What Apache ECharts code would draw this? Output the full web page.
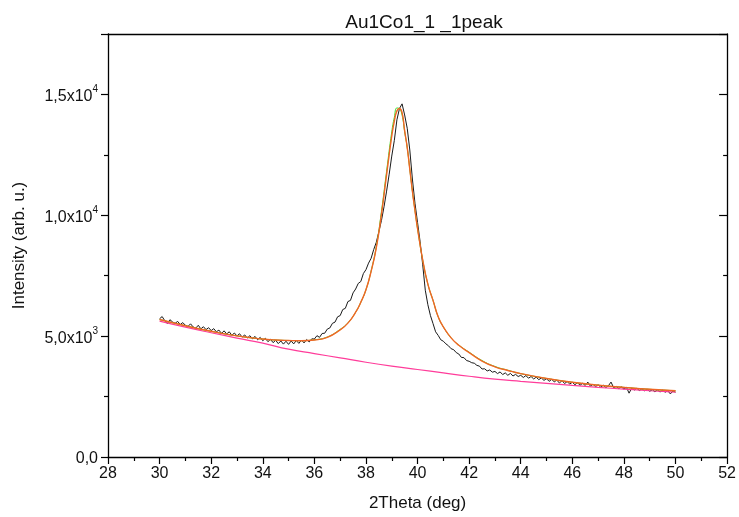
<!DOCTYPE html>
<html>
<head>
<meta charset="utf-8">
<script src="https://cdn.jsdelivr.net/npm/echarts@6/dist/echarts.min.js"></script>
<style>
html,body{margin:0;padding:0;background:#fff;}
#chart{width:739px;height:517px;}
</style>
</head>
<body>
<div id="chart"></div>
<script>
// ---- data ----
const titleText = 'Au1Co1_1 _1peak';
const xAxisName = '2Theta (deg)';
const yAxisName = 'Intensity (arb. u.)';
const xTicks = [28, 52, 2];          // min, max, interval
const yTicks = [0, 17500, 5000];     // min, max, interval
const yTickLabels = {0: ['0,0', ''], 5000: ['5,0x10', '3'], 10000: ['1,0x10', '4'], 15000: ['1,5x10', '4']};

// measured data, sampled every 0.1 deg starting at 30
const dataStart = 30, dataStep = 0.1;
const measured = [
5720,5810,5640,5520,5680,5590,5530,5610,5480,5560,5450,
5400,5510,5380,5330,5450,5300,5390,5270,5350,5230,
5310,5180,5250,5110,5220,5090,5180,5040,5130,5010,
5100,4960,5050,4920,5020,4890,4990,4850,4950,4810,
4910,4770,4870,4730,4830,4690,4800,4670,4790,4660,
4800,4680,4820,4700,4840,4720,4860,4760,4890,4880,
5020,4950,5110,5120,5290,5340,5530,5580,5800,5850,
6100,6150,6430,6480,6790,6950,7180,7260,7590,7750,
8020,8220,8580,8880,9320,9780,10350,11000,11700,12450,
13100,13950,14420,14610,14150,13600,12700,11500,10500,9700,
8900,7950,6900,6300,5850,5520,5180,5030,4850,4790,
4680,4600,4480,4440,4320,4260,4120,4110,3990,3960,
3900,3880,3790,3760,3640,3650,3560,3600,3510,3540,
3450,3520,3410,3480,3380,3460,3350,3420,3330,3380,
3290,3370,3260,3330,3230,3300,3200,3270,3170,3240,
3130,3210,3110,3180,3060,3160,3040,3120,3020,3090,
2990,3070,2970,3050,2960,3100,2930,3010,2910,2990,
2890,2970,2870,2950,3100,2870,2920,2830,2900,2810,
2880,2640,2850,2770,2840,2750,2820,2740,2800,2720,
2780,2700,2770,2690,2760,2680,2740,2610,2730,2680
];

// fitted curve (peak + background)
const fitX = [30,31,32,33,34,34.5,35,35.5,36,36.5,37,37.3,37.6,37.8,38,38.2,38.4,38.6,38.8,39,39.1,39.2,39.3,39.4,39.5,39.6,39.7,39.8,39.9,40,40.2,40.4,40.6,40.8,41,41.3,41.6,42,42.5,43,43.5,44,45,46,47,48,49,50];
const fitY = [5690,5430,5200,5010,4880,4840,4820,4810,4840,4950,5260,5540,5990,6400,6920,7680,8650,10040,11680,13280,13900,14320,14420,14250,13500,12800,11900,11000,10200,9450,8150,7150,6480,5800,5380,4930,4620,4320,3970,3730,3580,3450,3250,3090,2970,2880,2800,2740];
// cumulative fit (green), nearly the same curve
const cumY = [5690,5430,5200,5010,4880,4840,4820,4815,4850,4965,5280,5550,5990,6400,6920,7700,8700,10150,11820,13450,14050,14440,14400,14150,13450,12800,11900,11000,10200,9450,8150,7150,6480,5800,5380,4930,4630,4335,3990,3745,3590,3450,3250,3090,2970,2880,2800,2740];

// background line
const bgX = [30,31,32,33,34,35,36,37,38,39,40,41,42,43,44,45,46,47,48,49,50];
const bgY = [5620,5370,5140,4920,4710,4460,4280,4100,3920,3760,3620,3480,3340,3220,3130,3050,2960,2880,2810,2740,2680];

// ---- build series data ----
const measuredData = measured.map((v, i) => [+(dataStart + i * dataStep).toFixed(2), v]);
const fitData = fitX.map((x, i) => [x, fitY[i]]);
const cumData = fitX.map((x, i) => [x, cumY[i]]);
const bgData = bgX.map((x, i) => [x, bgY[i]]);

const FONT = "'Liberation Sans', Arial, sans-serif";
const chart = echarts.init(document.getElementById('chart'), null, {renderer: 'canvas'});

chart.setOption({
  backgroundColor: '#fff',
  animation: false,
  title: {
    text: titleText,
    left: 419, top: 8, textAlign: 'center',
    textStyle: {fontFamily: FONT, fontSize: 19, fontWeight: 'normal', color: '#111'}
  },
  grid: {left: 108, right: 7, top: 34, bottom: 59, containLabel: false},
  xAxis: [{
    type: 'value', min: xTicks[0], max: xTicks[1], interval: xTicks[2],
    position: 'bottom',
    name: xAxisName, nameLocation: 'middle', nameGap: 38,
    nameTextStyle: {fontFamily: FONT, fontSize: 17, color: '#111'},
    axisLine: {show: true, onZero: false, lineStyle: {color: '#000', width: 1.3}},
    axisTick: {show: true, inside: false, length: 7, lineStyle: {color: '#000', width: 1.2}},
    minorTick: {show: true, splitNumber: 2, length: 4, lineStyle: {color: '#000', width: 1.2}},
    axisLabel: {fontFamily: FONT, fontSize: 16, color: '#111', margin: 9},
    splitLine: {show: false}
  }, {
    type: 'value', min: xTicks[0], max: xTicks[1], interval: xTicks[2],
    position: 'top',
    axisLine: {show: true, onZero: false, lineStyle: {color: '#000', width: 1.3}},
    axisTick: {show: false}, axisLabel: {show: false}, splitLine: {show: false}
  }],
  yAxis: [{
    type: 'value', min: yTicks[0], max: yTicks[1], interval: yTicks[2],
    position: 'left',
    name: yAxisName, nameLocation: 'middle', nameGap: 80, nameRotate: 90,
    nameTextStyle: {fontFamily: FONT, fontSize: 17, color: '#111'},
    axisLine: {show: true, onZero: false, lineStyle: {color: '#000', width: 1.3}},
    axisTick: {show: true, inside: false, length: 7, lineStyle: {color: '#000', width: 1.2}},
    minorTick: {show: true, splitNumber: 2, length: 4, lineStyle: {color: '#000', width: 1.2}},
    axisLabel: {
      margin: 10,
      formatter: function (v) {
        const t = yTickLabels[v];
        if (!t) return '';
        return t[1] ? '{a|' + t[0] + '}{s|' + t[1] + '}' : '{a|' + t[0] + '}';
      },
      rich: {
        a: {fontFamily: FONT, fontSize: 16, color: '#111', lineHeight: 20, verticalAlign: 'bottom'},
        s: {fontFamily: FONT, fontSize: 10, color: '#111', lineHeight: 20, verticalAlign: 'top'}
      }
    },
    splitLine: {show: false}
  }, {
    type: 'value', min: yTicks[0], max: yTicks[1], interval: yTicks[2],
    position: 'right',
    axisLine: {show: true, onZero: false, lineStyle: {color: '#000', width: 1.3}},
    axisTick: {show: true, inside: true, length: 8, lineStyle: {color: '#000', width: 1.2}},
    minorTick: {show: true, splitNumber: 2, length: 4, lineStyle: {color: '#000', width: 1.2}},
    axisLabel: {show: false}, splitLine: {show: false}
  }],
  series: [
    {type: 'line', name: 'data', data: measuredData, showSymbol: false, smooth: false,
     lineStyle: {color: '#1a1a1a', width: 1}, z: 2},
    {type: 'line', name: 'background', data: bgData, showSymbol: false, smooth: true,
     lineStyle: {color: '#ff3c9a', width: 1.2}, z: 3},
    {type: 'line', name: 'cumulative', data: cumData, showSymbol: false, smooth: true,
     lineStyle: {color: '#33dd22', width: 1}, z: 4},
    {type: 'line', name: 'fit', data: fitData, showSymbol: false, smooth: true,
     lineStyle: {color: '#f07a2a', width: 1.4}, z: 5},
    {type: 'line', name: 'fit core', data: fitData, showSymbol: false, smooth: true,
     lineStyle: {color: '#ee3322', width: 0.6, opacity: 0.6}, z: 6}
  ]
});
</script>
</body>
</html>
